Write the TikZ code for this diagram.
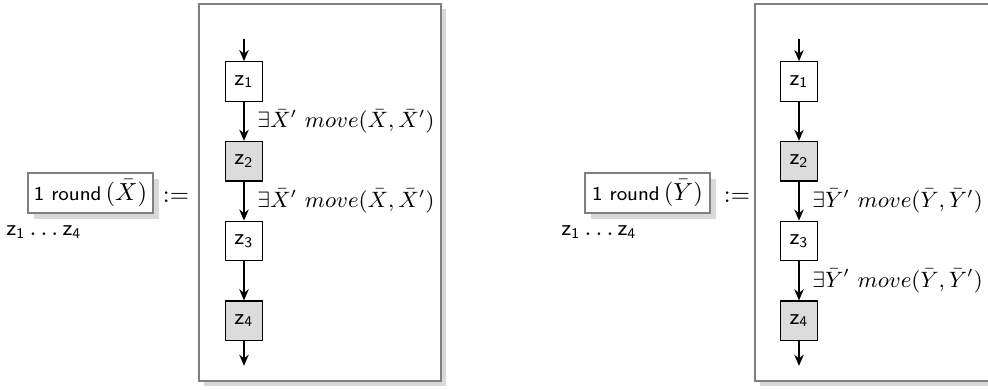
\documentclass[tikz,border=0pt]{standalone}
\usepackage{amsmath}
\usetikzlibrary{arrows.meta,positioning,shadows}
\definecolor{FrameGray}{HTML}{808080}
\definecolor{ShadowGray}{HTML}{D9D9D9}
\definecolor{StateGray}{HTML}{DCDCDC}
\tikzset{state/.style={draw=black,fill=white,line width=.5pt,minimum width=15pt,minimum height=16pt,inner sep=0pt},marked/.style={state,fill=StateGray},frame/.style={draw=FrameGray,line width=.8pt,fill=white,minimum width=98pt,minimum height=152.7pt,drop shadow={shadow xshift=2pt,shadow yshift=-2pt,fill=ShadowGray,opacity=1}},roundbox/.style={draw=FrameGray,line width=.8pt,fill=white,minimum width=50.6pt,minimum height=16.2pt,inner sep=2pt,drop shadow={shadow xshift=2.4pt,shadow yshift=-2.4pt,fill=ShadowGray,opacity=1}},flow/.style={-{Stealth[length=4.5pt,width=3.8pt]},thick},move/.style={right,xshift=4pt,inner sep=1pt,font=\fontsize{9.1pt}{11pt}\selectfont}}
\newcommand{\zz}[1]{\textsf{\small z\textsubscript{#1}}}

\begin{document}
\begin{tikzpicture}[x=0.405pt,y=-0.405pt,node distance=15.8pt]
      \useasboundingbox (0,0) rectangle (988,389);
      % one round over X
      \node[roundbox](rx) at (90.5,193){\textsf{\footnotesize 1 round}$\,(\bar X)$};
      \node(dx) at (176,197){$:=$};
      \node(zx) at (44,232){\zz{1}\,$\ldots$\,\zz{4}};
      \node[frame](fx) at (320,192.5){};
      \node[state](x1) at (244,81.5){\zz{1}};
      \node[marked,below=of x1](x2){\zz{2}};
      \node[state,below=of x2](x3){\zz{3}};
      \node[marked,below=of x3](x4){\zz{4}};
      \coordinate[above=9pt of x1](xin);
      \coordinate[below=10pt of x4](xout);
      \draw[flow](xin)--(x1);
      \draw[flow](x1)--node[move]{$\exists\bar X'\ move(\bar X,\bar X')$}(x2);
      \draw[flow](x2)--node[move]{$\exists\bar X'\ move(\bar X,\bar X')$}(x3);
      \draw[flow](x3)--(x4);\draw[flow](x4)--(xout);
      % one round over Y
      \node[roundbox](ry) at (647.5,193){\textsf{\footnotesize 1 round}$\,(\bar Y)$};
      \node(dy) at (737,197){$:=$};
      \node(zy) at (599,232){\zz{1}\,$\ldots$\,\zz{4}};
      \node[frame](fy) at (876,192.5){};
      \node[state](y1) at (799,81.5){\zz{1}};
      \node[marked,below=of y1](y2){\zz{2}};
      \node[state,below=of y2](y3){\zz{3}};
      \node[marked,below=of y3](y4){\zz{4}};
      \coordinate[above=9pt of y1](yin);
      \coordinate[below=10pt of y4](yout);
      \draw[flow](yin)--(y1);\draw[flow](y1)--(y2);
      \draw[flow](y2)--node[move]{$\exists\bar Y'\ move(\bar Y,\bar Y')$}(y3);
      \draw[flow](y3)--node[move]{$\exists\bar Y'\ move(\bar Y,\bar Y')$}(y4);
      \draw[flow](y4)--(yout);
    \end{tikzpicture}
\end{document}
